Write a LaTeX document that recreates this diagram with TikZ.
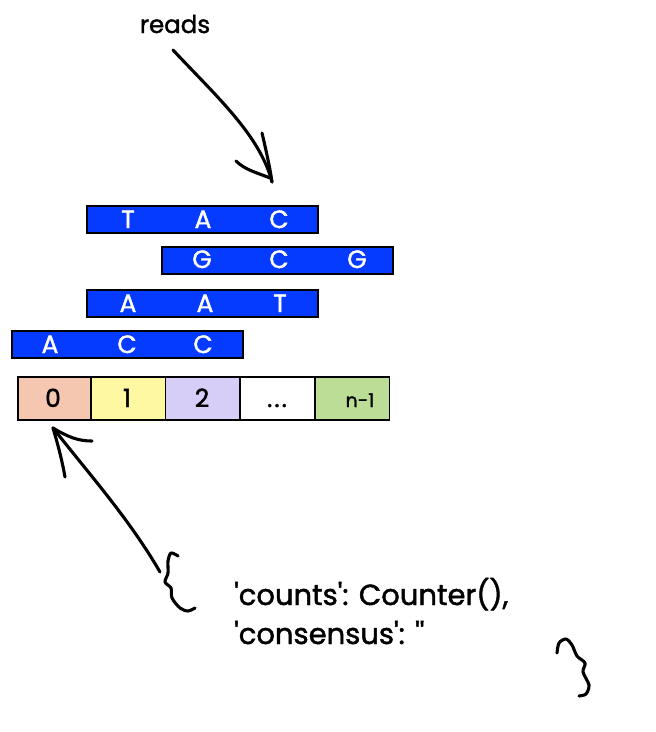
\documentclass[tikz,border=0pt]{standalone}
\usepackage{fontspec}
\setmainfont{Poppins}[Ligatures=TeXOff,FakeBold=1.5]
\definecolor{readblue}{RGB}{5,58,255}
\definecolor{peach}{RGB}{245,198,176}
\definecolor{lemon}{RGB}{254,248,163}
\definecolor{lavender}{RGB}{215,206,247}
\definecolor{leaf}{RGB}{188,221,150}
\begin{document}
\begin{tikzpicture}[x=1pt,y=-1pt,
  readbar/.style={draw=black,line width=1.6pt,fill=readblue,minimum width=231pt,minimum height=27pt,inner sep=0pt,anchor=north west},
  base/.style={anchor=base,inner sep=0pt,font=\fontsize{25}{25}\selectfont},
  rl/.style={base,text=white},
  cell/.style={draw=black,line width=1.6pt,minimum width=74.5pt,minimum height=43pt,inner sep=0pt,anchor=north west},
  dict/.style={anchor=base west,inner sep=0pt,font=\fontsize{29}{29}\selectfont},
  hand/.style={line width=3.1pt,line cap=round,line join=round}]
\useasboundingbox (0,0) rectangle (656,732);
\node[anchor=base,inner sep=0pt,font=\fontsize{24.5}{24.5}\selectfont] (reads) at (175,33) {reads};
% reads
\node[readbar] (r1) at (86,205) {};
\node[readbar] (r2) at (161,246) {};
\node[readbar] (r3) at (86,289) {};
\node[readbar] (r4) at (11,330) {};
\node[rl] (r1a) at (128,228) {T};
\node[rl] (r1b) at (203,228) {A};
\node[rl] (r1c) at (279,228) {C};
\node[rl] (r2a) at (202,268) {G};
\node[rl] (r2b) at (279,268) {C};
\node[rl] (r2c) at (357,268) {G};
\node[rl] (r3a) at (128,312) {A};
\node[rl] (r3b) at (205,312) {A};
\node[rl] (r3c) at (280,312) {T};
\node[rl] (r4a) at (50,353) {A};
\node[rl] (r4b) at (127,353) {C};
\node[rl] (r4c) at (203,353) {C};
% cells
\node[cell,fill=peach] (c0) at (17,376) {};
\node[cell,fill=lemon] (c1) at (90,376) {};
\node[cell,fill=lavender] (c2) at (164.5,376) {};
\node[cell,fill=white] (c3) at (239,376) {};
\node[cell,fill=leaf] (c4) at (314,376) {};
\node[base] (t0) at (53,407) {0};
\node[base] (t1) at (127,407) {1};
\node[base] (t2) at (202,407) {2};
\node[base] (t3) at (277,407) {.\kern2pt.\kern2pt.};
\node[anchor=base,inner sep=0pt,font=\fontsize{19}{19}\selectfont] (t4) at (360,407) {n-1};
% dictionary text
\node[dict] (l1) at (234,605) {'counts': Counter(),};
\node[dict] (l2) at (234,644) {'consensus': ''};
% arrows
\coordinate (rs) at (173,50);
\coordinate (rt) at (272,182);
\draw[hand] (rs) .. controls (215,95) and (260,135) .. (rt);
\draw[hand] (262,133) .. controls (266,150) and (270,168) .. (rt);
\draw[hand] (236,161) .. controls (245,170) and (258,173) .. (270,178);
\coordinate (ls) at (160,572);
\coordinate (lt) at (53,428);
\draw[hand] (ls) .. controls (130,520) and (90,475) .. (lt);
\draw[hand] (lt) .. controls (68,437) and (78,441) .. (92,441);
\draw[hand] (lt) .. controls (58,445) and (62,460) .. (65,477);
% braces
\draw[hand] plot[smooth] coordinates {(178,556) (171,553) (168,561) (168,573) (165,582) (171,588) (172,598) (180,608) (188,611) (195,608)};
\draw[hand] plot[smooth] coordinates {(557,653) (559,643) (566,639) (572,645) (577,656) (585,663) (583,672) (589,685) (586,694) (579,696)};
\end{tikzpicture}
\end{document}
